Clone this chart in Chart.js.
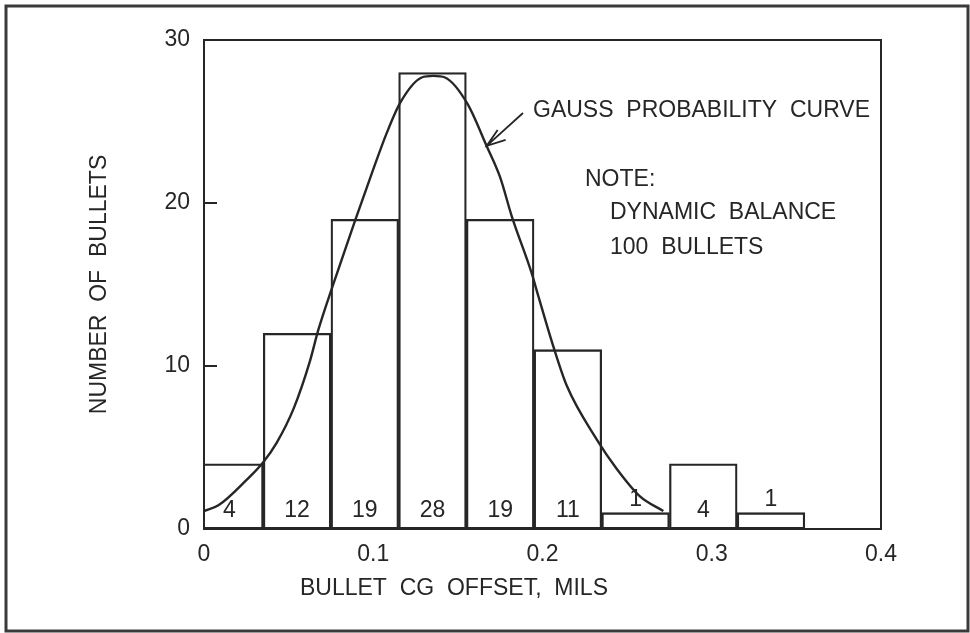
<!DOCTYPE html>
<html>
<head>
<meta charset="utf-8">
<title>Bullet CG offset</title>
<script src="https://cdn.jsdelivr.net/npm/chart.js@4.4.1/dist/chart.umd.min.js"></script>
<style>
  html, body { margin: 0; padding: 0; background: #fff; }
  #wrap { width: 970px; height: 633px; position: relative; }
</style>
</head>
<body>
<div id="wrap"><canvas id="offsetChart"></canvas></div>
<script>
// histogram bins (centre of each 0.04 mil bin) and bullet counts
const binCenters = [0.015, 0.055, 0.095, 0.135, 0.175, 0.215, 0.255, 0.295, 0.335];
const binCounts = [4, 12, 19, 28, 19, 11, 1, 4, 1];

// gauss probability curve, points along the plotted line
const curveX = [0, 0.0085, 0.025, 0.035, 0.043, 0.053, 0.0626, 0.0675, 0.076, 0.0892, 0.0991, 0.108, 0.1162, 0.1286, 0.1355, 0.1424, 0.1556, 0.167, 0.1749, 0.1818, 0.1936, 0.1975, 0.2064, 0.2143, 0.232, 0.2438, 0.2576, 0.2714];
const curveY = [1.1, 1.45, 3.0, 4.1, 5.3, 7.4, 10.3, 12.2, 14.9, 18.9, 21.8, 24.3, 26.2, 27.7, 27.8, 27.7, 26.1, 23.5, 21.6, 19.2, 15.7, 14.3, 11.2, 8.8, 5.5, 3.7, 2.0, 1.1];

// axis ticks
const xTicks = [0, 0.1, 0.2, 0.3, 0.4];
const yTicks = [0, 10, 20, 30];

const ink = "#262626";
const fontFamily = "'Liberation Sans', Arial, sans-serif";

// box, inner ticks, bin counts, notes and the arrow
const plotNotes = {
  id: "plotNotes",
  afterDatasetsDraw(chart) {
    const { ctx, chartArea, scales } = chart;
    const x = scales.x, y = scales.y;
    ctx.save();
    ctx.strokeStyle = ink;
    ctx.fillStyle = ink;

    // outer frame
    ctx.lineWidth = 3;
    ctx.strokeStyle = "#3a3a3a";
    ctx.strokeRect(6, 6, 962, 625);

    // plot box
    ctx.strokeStyle = ink;
    ctx.lineWidth = 2;
    ctx.strokeRect(chartArea.left, chartArea.top, chartArea.right - chartArea.left, chartArea.bottom - chartArea.top);

    // small inward ticks on the y axis
    yTicks.slice(1, -1).forEach(function (t) {
      const py = y.getPixelForValue(t);
      ctx.beginPath();
      ctx.moveTo(chartArea.left, py);
      ctx.lineTo(chartArea.left + 13, py);
      ctx.stroke();
    });

    // count in every bin
    ctx.font = "23px " + fontFamily;
    ctx.textAlign = "center";
    ctx.textBaseline = "middle";
    binCounts.forEach(function (n, i) {
      const vy = n <= 1 ? n + 0.8 : 1.1;
      ctx.fillText(String(n), x.getPixelForValue(binCenters[i]), y.getPixelForValue(vy));
    });

    // notes
    ctx.textAlign = "left";
    ctx.fillText("GAUSS  PROBABILITY  CURVE", 533, 111);
    ctx.fillText("NOTE:", 585, 180);
    ctx.fillText("DYNAMIC  BALANCE", 610, 213);
    ctx.fillText("100  BULLETS", 610, 248);

    // x axis title
    ctx.fillText("BULLET  CG  OFFSET,  MILS", 300, 589);

    // arrow pointing at the curve
    const tipX = x.getPixelForValue(0.167);
    const tipY = y.getPixelForValue(23.5);
    ctx.lineWidth = 1.8;
    ctx.beginPath();
    ctx.moveTo(523, 113);
    ctx.lineTo(tipX, tipY);
    ctx.moveTo(tipX + 11, tipY - 16);
    ctx.lineTo(tipX, tipY);
    ctx.lineTo(tipX + 19, tipY - 6);
    ctx.stroke();

    ctx.restore();
  }
};

const ctx = document.getElementById("offsetChart").getContext("2d");
const offsetChart = new Chart(ctx, {
  data: {
    datasets: [
      {
        type: "line",
        label: "Gauss probability curve",
        data: curveX.map(function (v, i) { return { x: v, y: curveY[i] }; }),
        borderColor: ink,
        borderWidth: 2.4,
        pointRadius: 0,
        cubicInterpolationMode: "monotone",
        fill: false,
        order: 0
      },
      {
        type: "bar",
        label: "Number of bullets",
        data: binCenters.map(function (v, i) { return { x: v, y: binCounts[i] }; }),
        backgroundColor: "rgba(255,255,255,0)",
        borderColor: ink,
        borderWidth: 1.6,
        borderSkipped: false,
        barPercentage: 1,
        categoryPercentage: 1,
        clip: 0,
        order: 1
      }
    ]
  },
  options: {
    responsive: true,
    maintainAspectRatio: false,
    animation: false,
    layout: { padding: { left: 0, top: 40, right: 89, bottom: 0 } },
    plugins: {
      legend: { display: false },
      tooltip: { enabled: false }
    },
    scales: {
      x: {
        type: "linear",
        offset: false,
        min: xTicks[0],
        max: xTicks[xTicks.length - 1],
        afterFit: function (scale) { scale.height = 104; },
        afterBuildTicks: function (scale) {
          scale.ticks = xTicks.map(function (v) { return { value: v }; });
        },
        grid: { display: false, drawTicks: false },
        border: { display: true, color: ink, width: 2 },
        ticks: {
          color: ink,
          padding: 12,
          font: { family: fontFamily, size: 23 },
          callback: function (v) { return v === 0 ? "0" : v.toFixed(1); }
        }
      },
      y: {
        type: "linear",
        min: yTicks[0],
        max: yTicks[yTicks.length - 1],
        afterFit: function (scale) { scale.width = 204; },
        afterBuildTicks: function (scale) {
          scale.ticks = yTicks.map(function (v) { return { value: v }; });
        },
        grid: { display: false, drawTicks: false },
        border: { display: true, color: ink, width: 2 },
        ticks: {
          color: ink,
          padding: 14,
          font: { family: fontFamily, size: 23 }
        },
        title: {
          display: true,
          text: "NUMBER  OF  BULLETS",
          color: ink,
          font: { family: fontFamily, size: 23 },
          padding: { top: 86, bottom: 0 }
        }
      }
    }
  },
  plugins: [plotNotes]
});
</script>
</body>
</html>
